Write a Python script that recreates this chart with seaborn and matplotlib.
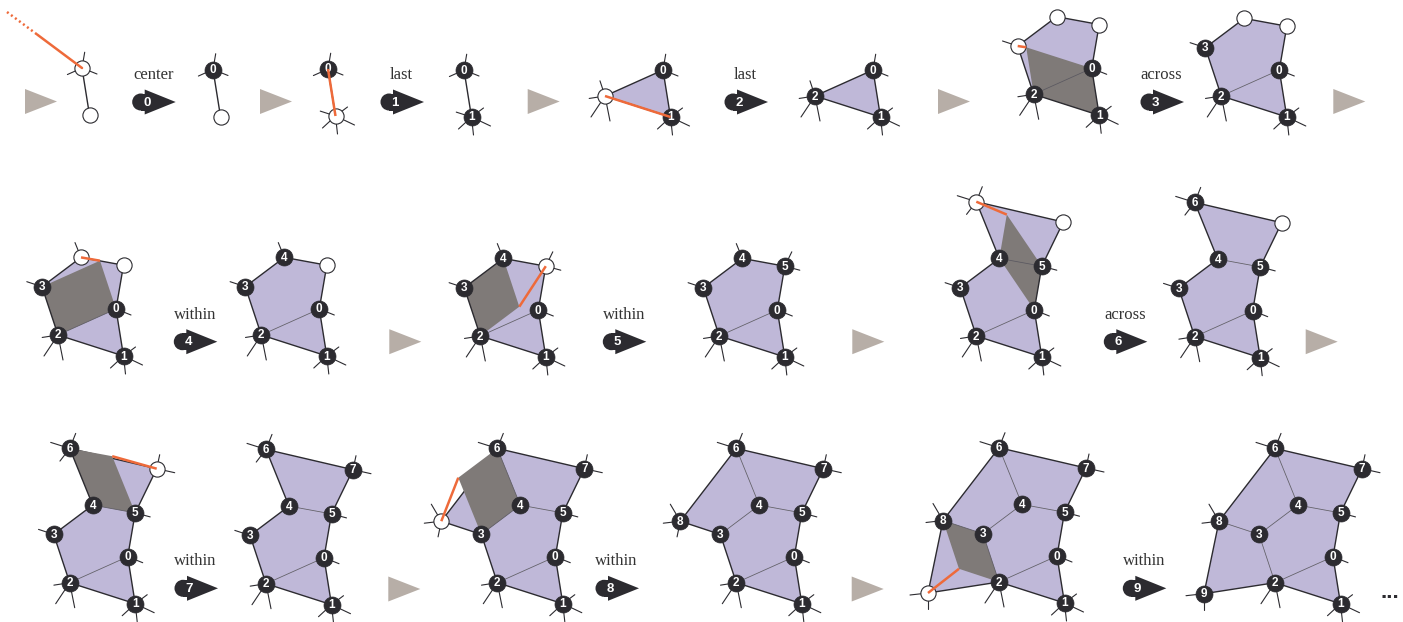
import matplotlib
matplotlib.use("Agg")
import matplotlib.pyplot as plt
from matplotlib.patches import Polygon, Circle, Rectangle
import numpy as np
import pandas as pd
import seaborn as sns

# vertex offsets from vertex 0 (pixels, y pointing down)
VERT_DX = [0, 7.5, -58, -74, -35, 7.5, -58, 29, -114, -129]
VERT_DY = [0, 47, 26, -22.3, -51.6, -43.8, -108.3, -88, -35.5, 37]

EDGES = [(0, 1), (1, 2), (2, 0), (2, 3), (3, 4), (4, 5), (5, 0), (4, 6),
         (6, 7), (7, 5), (6, 8), (8, 3), (2, 9), (9, 8)]
FACES = [(0, 1, 2), (2, 0, 5, 4, 3), (4, 5, 7, 6), (6, 4, 3, 8), (8, 3, 2, 9)]

# dangling edges to vertices outside the drawn patch
SPOKES = [[(15, 6)], [(12, -9), (19, 9), (2, 18), (-13, 12)], [(-14, 21), (5, 25)],
          [], [], [(15, 4)], [(-19, -6), (6, -15)], [(3, -14), (18, 4)],
          [(-10, -17), (-17, 2)], [(-18, 2), (0, 16)]]

# one entry per decoding step
STEP_RULE = ["center", "last", "last", "across", "within", "within",
             "across", "within", "within", "within"]
N_FACES = [0, 0, 1, 2, 2, 2, 3, 3, 4, 5]
GHOSTS = [[1], [], [], [4, 5], [5], [], [7], [], [], []]
PARALLEL = [None, None, None, (0, 1, 2), (3, 2, 0), (4, 3, 2), (4, 0, 5),
            (6, 4, 5), (6, 4, 3), (8, 3, 2)]
CENTER_GUESS = (-75, -56)

# where vertex 0 sits in each panel
BEFORE_X = [82, 328, 663, 1091.7, 116, 538.3, 1034.3, 127.7, 555.3, 1057]
BEFORE_Y = [68, 69, 70, 68.3, 309, 310, 310, 556.7, 556.7, 556]
AFTER_X = [213, 464, 873, 1279.3, 319.3, 777.3, 1252.7, 324, 794.3, 1333]
AFTER_Y = [69.5, 70, 70, 70, 309, 310, 310.7, 557.7, 556.7, 556.7]

# step badges and the grey "next" arrows
BADGE_X = [131.7, 380, 724, 1140, 173.3, 602.3, 1103.3, 174, 595, 1122.3]
BADGE_Y = [102, 102, 102, 102, 341.7, 341.7, 341.7, 588.3, 588.3, 588.3]
NEXT_X = [25, 260, 527.7, 938, 1333.3, 389.3, 852.3, 1305.7, 388.3, 851.7]
NEXT_Y = [101.5, 101.5, 101.5, 101.5, 101.5, 341.7, 341.7, 341.7, 589, 589]

PURPLE = "#bfb8d8"
SHADE = "#7f7a78"
ORANGE = "#ee6a3a"
INK = "#2c2b30"
NEXT_GREY = "#b7aea7"

sns.set_theme(style="white")
plt.rcParams["font.family"] = ["Liberation Sans", "DejaVu Sans"]

fig = plt.figure(figsize=(14.03, 6.22), dpi=100)
ax = fig.add_axes([0, 0, 1, 1])
ax.set_xlim(0, 1403)
ax.set_ylim(622, 0)
ax.axis("off")

dark_pts = []
light_pts = []


def face_edges(f):
    return [frozenset((f[i], f[(i + 1) % len(f)])) for i in range(len(f))]


def draw_panel(ox, oy, step, before):
    def pos(v):
        return np.array([ox + VERT_DX[v], oy + VERT_DY[v]])

    labeled = list(range(step)) if before else list(range(step + 1))
    white = list(GHOSTS[step]) + ([step] if before else [])
    present = set(labeled + white)
    faces = FACES[:N_FACES[step]]
    par = PARALLEL[step] if before else None

    for f in faces:
        ax.add_patch(Polygon([pos(v) for v in f], closed=True, fc=PURPLE,
                             ec="none", zorder=1))

    counts = {}
    for f in faces:
        for e in face_edges(f):
            counts[e] = counts.get(e, 0) + 1

    for a, b in EDGES:
        if a in present and b in present:
            n = counts.get(frozenset((a, b)), 0)
            z = 2 if (before and par and step in (a, b)) else 4
            if n == 2:
                col, lw = "#5a5860", 0.55
            else:
                col, lw = INK, 1.0
            p, q = pos(a), pos(b)
            ax.plot([p[0], q[0]], [p[1], q[1]], color=col, lw=lw, zorder=z,
                    solid_capstyle="round")

    # stubs for decoded vertices and the vertex being decoded
    spoked = labeled + ([step] if before else [])
    for v in spoked:
        p = pos(v)
        for a, b in EDGES:
            if v in (a, b):
                w = b if a == v else a
                if w not in present:
                    d = pos(w) - p
                    d = d / np.hypot(*d) * 16
                    ax.plot([p[0], p[0] + d[0]], [p[1], p[1] + d[1]],
                            color=INK, lw=0.8, zorder=2)
        for dx, dy in SPOKES[v]:
            ax.plot([p[0], p[0] + dx], [p[1], p[1] + dy], color=INK,
                    lw=0.8, zorder=2)

    if par:
        a, b, c = par
        pred = pos(a) + pos(c) - pos(b)
        ax.add_patch(Polygon([pos(a), pos(b), pos(c), pred], closed=True,
                             fc=SHADE, ec="none", zorder=3))

    if before:
        tgt = pos(step)
        rule = STEP_RULE[step]
        if rule == "center":
            far = pos(0) + np.array(CENTER_GUESS)
            mid = pos(0) + 0.6 * np.array(CENTER_GUESS)
            ax.plot([far[0], mid[0]], [far[1], mid[1]], color=ORANGE, lw=1.8,
                    ls=(0, (0.8, 1.2)), zorder=9)
            ax.plot([mid[0], tgt[0]], [mid[1], tgt[1]], color=ORANGE, lw=1.8,
                    zorder=9)
        else:
            if rule == "last":
                src = pos(step - 1)
            else:
                a, b, c = par
                src = pos(a) + pos(c) - pos(b)
            ax.plot([src[0], tgt[0]], [src[1], tgt[1]], color=ORANGE, lw=1.8,
                    zorder=9, solid_capstyle="butt")

    for v in labeled:
        p = pos(v)
        dark_pts.append({"x": p[0], "y": p[1], "label": str(v)})
    for v in white:
        p = pos(v)
        light_pts.append({"x": p[0], "y": p[1], "label": ""})


for k in range(10):
    draw_panel(BEFORE_X[k], BEFORE_Y[k], k, True)
    draw_panel(AFTER_X[k], AFTER_Y[k], k, False)

dark_df = pd.DataFrame(dark_pts)
light_df = pd.DataFrame(light_pts)
sns.scatterplot(data=light_df, x="x", y="y", ax=ax, s=120, color="white",
                edgecolor=INK, linewidth=0.8, zorder=7, legend=False)
sns.scatterplot(data=dark_df, x="x", y="y", ax=ax, s=150, color=INK,
                edgecolor=INK, linewidth=0.5, zorder=7, legend=False)
for _, r in dark_df.iterrows():
    ax.text(r["x"], r["y"] + 0.5, r["label"], color="white", fontsize=8.5,
            fontweight="bold", ha="center", va="center", zorder=8)

# grey arrows between stages
for x0, yc in zip(NEXT_X, NEXT_Y):
    ax.add_patch(Polygon([(x0, yc - 12.5), (x0, yc + 12.5), (x0 + 32, yc)],
                         closed=True, fc=NEXT_GREY, ec="none", zorder=1))

# step badges with rule names
for k in range(10):
    x0, yc = BADGE_X[k], BADGE_Y[k]
    ax.add_patch(Circle((x0 + 9, yc), 8.5, fc=INK, ec="none", zorder=5))
    ax.add_patch(Rectangle((x0 + 9, yc - 8.5), 5, 17, fc=INK, ec="none",
                           zorder=5))
    ax.add_patch(Polygon([(x0 + 13, yc - 12.5), (x0 + 13, yc + 12.5),
                          (x0 + 44, yc)], closed=True, fc=INK, ec="none",
                         zorder=5))
    ax.text(x0 + 15, yc + 0.5, str(k), color="white", fontsize=9.5,
            fontweight="bold", ha="center", va="center", zorder=6)
    ax.text(x0 + 21.5, yc - 27, STEP_RULE[k], color="#333333", fontsize=12,
            family=["Liberation Serif", "DejaVu Serif"], ha="center",
            va="center", zorder=6)

ax.text(1390, 593, "...", fontsize=16, fontweight="bold", color=INK,
        ha="center", va="center")

fig.savefig("out.png", dpi=100)
